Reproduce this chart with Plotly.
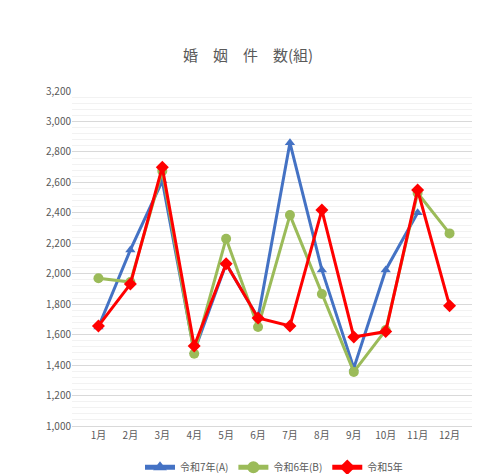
import plotly.graph_objects as go

months = ["1月","2月","3月","4月","5月","6月","7月","8月","9月","10月","11月","12月"]
r7 = [1650,2156,2610,1490,2065,1710,2860,2025,1380,2025,2400,None]
r6 = [1970,1945,2675,1475,2230,1650,2385,1867,1355,1630,2530,2265]
r5 = [1657,1932,2700,1525,2065,1710,1657,2418,1585,1620,2550,1790]

fig = go.Figure()
fig.add_trace(go.Scatter(x=months, y=r7, name="令和7年(A)", mode="lines+markers",
    line=dict(color="#4472C4", width=3), marker=dict(symbol="triangle-up", size=9)))
fig.add_trace(go.Scatter(x=months, y=r6, name="令和6年(B)", mode="lines+markers",
    line=dict(color="#9BBB59", width=3), marker=dict(symbol="circle", size=10)))
fig.add_trace(go.Scatter(x=months, y=r5, name="令和5年", mode="lines+markers",
    line=dict(color="#FF0000", width=3), marker=dict(symbol="diamond", size=10)))

fig.update_layout(
    width=480, height=474, paper_bgcolor="white", plot_bgcolor="white",
    margin=dict(l=64, r=12, t=83, b=56, autoexpand=False),
    font=dict(family="Noto Sans CJK JP", size=10, color="#595959"),
    title=dict(text="婚　姻　件　数(組)", x=0.5, xanchor="center", y=1-48/474, yanchor="middle",
               font=dict(size=15, color="#595959")),
    xaxis=dict(showgrid=False, showline=True, linecolor="#D9D9D9", ticks="", tickfont=dict(size=10)),
    yaxis=dict(range=[1000,3200], dtick=200, tickformat=",", showgrid=True, gridcolor="#D9D9D9",
               minor=dict(dtick=40, showgrid=True, gridcolor="#F2F2F2"), zeroline=False, tickfont=dict(size=10)),
    legend=dict(orientation="h", x=0.5, xanchor="center", y=-0.08, yanchor="top", font=dict(size=10),
                itemsizing="constant"),
)
fig.write_html("out.html")
